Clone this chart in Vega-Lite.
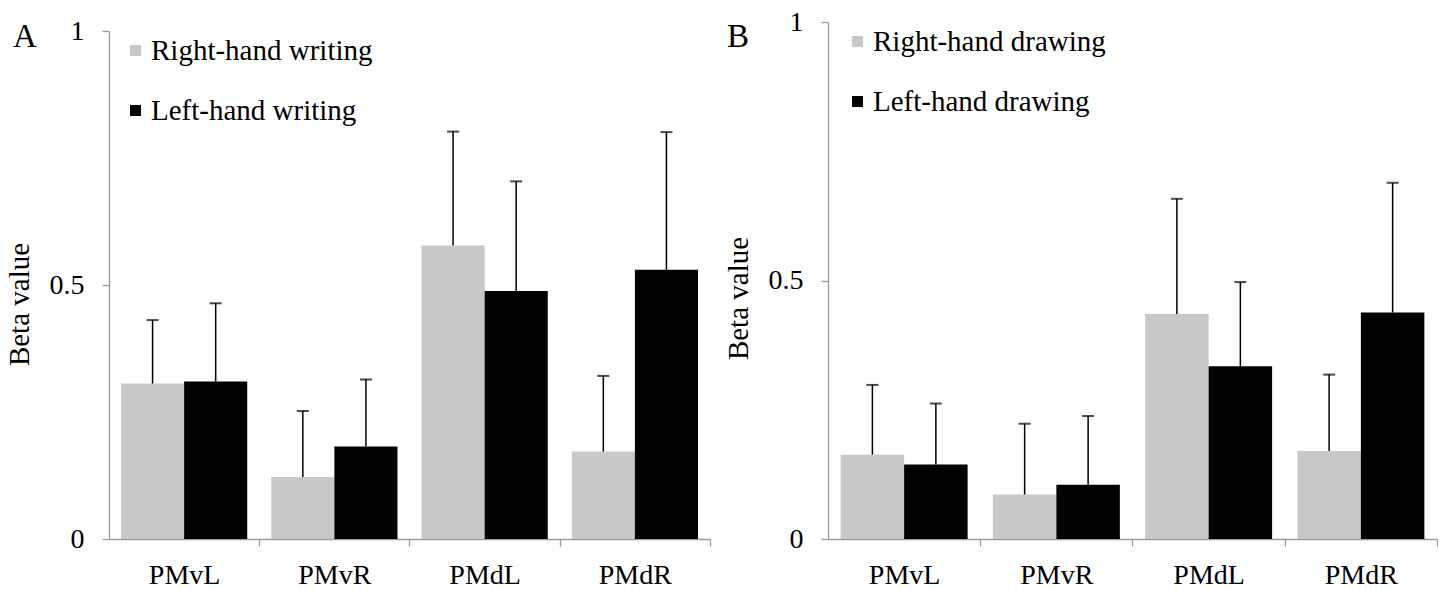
{
  "$schema": "https://vega.github.io/schema/vega-lite/v6.json",
  "background": "white",
  "padding": {"left": 5, "top": 8, "right": 0, "bottom": 0},
  "spacing": 13,
  "config": {
    "view": {"stroke": null},
    "font": "Liberation Serif",
    "axis": {
      "domainColor": "#9a9a9a",
      "domainWidth": 1.3,
      "tickColor": "#9a9a9a",
      "tickWidth": 1.3,
      "tickSize": 7,
      "grid": false,
      "labelFont": "Liberation Serif",
      "labelFontSize": 28,
      "labelColor": "black",
      "titleFont": "Liberation Serif",
      "titleFontSize": 29,
      "titleFontWeight": "normal",
      "titleColor": "black"
    },
    "legend": {
      "labelFont": "Liberation Serif",
      "labelFontSize": 29,
      "labelColor": "black",
      "labelLimit": 0,
      "symbolType": "square",
      "symbolSize": 121,
      "symbolStrokeWidth": 0,
      "labelOffset": 1,
      "rowPadding": 30,
      "padding": 0
    },
    "title": {
      "font": "Liberation Serif",
      "fontSize": 33,
      "fontWeight": "normal",
      "color": "black",
      "anchor": "start",
      "frame": "bounds",
      "baseline": "middle"
    }
  },
  "resolve": {"scale": {"color": "independent", "x": "independent", "y": "independent", "xOffset": "independent"}},
  "hconcat": [
    {
      "width": 601,
      "height": 517,
      "title": {"text": "A", "dx": 8, "offset": -37},
      "data": {"values": [
        {"region": "PMvL", "cond": "Right-hand writing", "value": 0.306, "upper": 0.431},
        {"region": "PMvL", "cond": "Left-hand writing", "value": 0.310, "upper": 0.464},
        {"region": "PMvR", "cond": "Right-hand writing", "value": 0.122, "upper": 0.252},
        {"region": "PMvR", "cond": "Left-hand writing", "value": 0.182, "upper": 0.314},
        {"region": "PMdL", "cond": "Right-hand writing", "value": 0.578, "upper": 0.802},
        {"region": "PMdL", "cond": "Left-hand writing", "value": 0.488, "upper": 0.704},
        {"region": "PMdR", "cond": "Right-hand writing", "value": 0.172, "upper": 0.321},
        {"region": "PMdR", "cond": "Left-hand writing", "value": 0.530, "upper": 0.801}
      ]},
      "encoding": {
        "x": {
          "field": "region", "type": "nominal",
          "sort": ["PMvL", "PMvR", "PMdL", "PMdR"],
          "scale": {"type": "band", "paddingInner": 0.16, "paddingOuter": 0.08},
          "axis": {"title": null, "labelAngle": 0, "labelPadding": 15, "bandPosition": 1, "tickOffset": 12, "labelOffset": -12}
        },
        "xOffset": {"field": "cond", "type": "nominal", "sort": ["Right-hand writing", "Left-hand writing"],
                    "scale": {"type": "band", "paddingInner": 0, "paddingOuter": 0}}
      },
      "layer": [
        {
          "mark": {"type": "bar"},
          "encoding": {
            "y": {"field": "value", "type": "quantitative", "title": "Beta value",
                  "scale": {"domain": [0, 1], "range": [517, 9]},
                  "axis": {"values": [0, 0.5, 1], "format": ".1~f", "labelPadding": 18, "titlePadding": 15, "titleY": 282}},
            "color": {
              "field": "cond", "type": "nominal",
              "sort": ["Right-hand writing", "Left-hand writing"],
              "scale": {"domain": ["Right-hand writing", "Left-hand writing"], "range": ["#c8c8c8", "#000000"]},
              "legend": {"title": null, "orient": "none", "legendX": 12, "legendY": 14, "direction": "vertical"}
            }
          }
        },
        {
          "mark": {"type": "rule", "color": "black", "strokeWidth": 1.5},
          "encoding": {
            "y": {"field": "value", "type": "quantitative", "title": "Beta value", "scale": {"domain": [0, 1], "range": [517, 9]}},
            "y2": {"field": "upper"}
          }
        },
        {
          "mark": {"type": "tick", "orient": "horizontal", "color": "black", "size": 12, "thickness": 2},
          "encoding": {
            "y": {"field": "upper", "type": "quantitative", "title": "Beta value", "scale": {"domain": [0, 1], "range": [517, 9]}}
          }
        }
      ]
    },
    {
      "width": 609,
      "height": 517,
      "title": {"text": "B", "dx": 3, "offset": -46},
      "data": {"values": [
        {"region": "PMvL", "cond": "Right-hand drawing", "value": 0.163, "upper": 0.298},
        {"region": "PMvL", "cond": "Left-hand drawing", "value": 0.144, "upper": 0.262},
        {"region": "PMvR", "cond": "Right-hand drawing", "value": 0.086, "upper": 0.223},
        {"region": "PMvR", "cond": "Left-hand drawing", "value": 0.105, "upper": 0.238},
        {"region": "PMdL", "cond": "Right-hand drawing", "value": 0.435, "upper": 0.658},
        {"region": "PMdL", "cond": "Left-hand drawing", "value": 0.334, "upper": 0.497},
        {"region": "PMdR", "cond": "Right-hand drawing", "value": 0.170, "upper": 0.318},
        {"region": "PMdR", "cond": "Left-hand drawing", "value": 0.438, "upper": 0.689}
      ]},
      "encoding": {
        "x": {
          "field": "region", "type": "nominal",
          "sort": ["PMvL", "PMvR", "PMdL", "PMdR"],
          "scale": {"type": "band", "paddingInner": 0.166, "paddingOuter": 0.083},
          "axis": {"title": null, "labelAngle": 0, "labelPadding": 15, "bandPosition": 1, "tickOffset": 12.6, "labelOffset": -12.6}
        },
        "xOffset": {"field": "cond", "type": "nominal", "sort": ["Right-hand drawing", "Left-hand drawing"],
                    "scale": {"type": "band", "paddingInner": 0, "paddingOuter": 0}}
      },
      "layer": [
        {
          "mark": {"type": "bar"},
          "encoding": {
            "y": {"field": "value", "type": "quantitative", "title": "Beta value",
                  "scale": {"domain": [0, 1]},
                  "axis": {"values": [0, 0.5, 1], "format": ".1~f", "labelPadding": 18, "titlePadding": 15, "titleY": 276}},
            "color": {
              "field": "cond", "type": "nominal",
              "sort": ["Right-hand drawing", "Left-hand drawing"],
              "scale": {"domain": ["Right-hand drawing", "Left-hand drawing"], "range": ["#c8c8c8", "#000000"]},
              "legend": {"title": null, "orient": "none", "legendX": 15, "legendY": 5, "direction": "vertical"}
            }
          }
        },
        {
          "mark": {"type": "rule", "color": "black", "strokeWidth": 1.5},
          "encoding": {
            "y": {"field": "value", "type": "quantitative", "title": "Beta value", "scale": {"domain": [0, 1]}},
            "y2": {"field": "upper"}
          }
        },
        {
          "mark": {"type": "tick", "orient": "horizontal", "color": "black", "size": 12, "thickness": 2},
          "encoding": {
            "y": {"field": "upper", "type": "quantitative", "title": "Beta value", "scale": {"domain": [0, 1]}}
          }
        }
      ]
    }
  ]
}
